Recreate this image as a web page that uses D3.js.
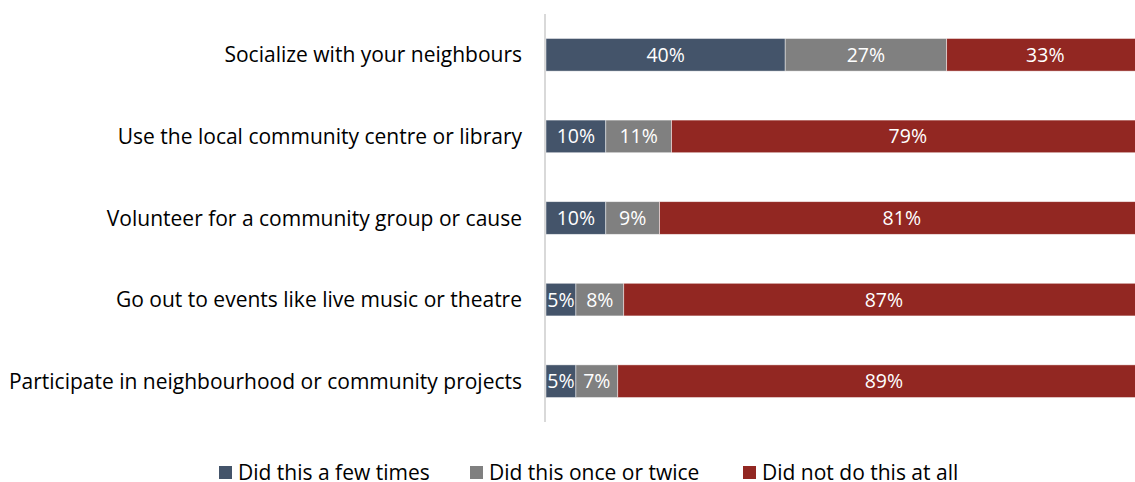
<!DOCTYPE html>
<html>
<head>
<meta charset="utf-8">
<script src="https://cdn.jsdelivr.net/npm/d3@7"></script>
<style>
  html, body { margin: 0; padding: 0; background: #fff; }
  svg { display: block; font-family: "Open Sans", "Noto Sans", sans-serif; }
</style>
</head>
<body>
<svg id="chart" width="1135" height="482"></svg>
<script>
// Survey activities and the share of respondents in each frequency group
const categories = [
  "Socialize with your neighbours",
  "Use the local community centre or library",
  "Volunteer for a community group or cause",
  "Go out to events like live music or theatre",
  "Participate in neighbourhood or community projects"
];
const seriesNames = ["Did this a few times", "Did this once or twice", "Did not do this at all"];
const fewTimes   = [40, 10, 10, 5, 5];
const onceTwice  = [27, 11, 9, 8, 7];
const notAtAll   = [33, 79, 81, 87, 89];
const colors = ["#44546a", "#808080", "#922722"];

const svg = d3.select("#chart");
const plotLeft = 546, plotRight = 1144, plotTop = 14, plotBottom = 422;

const x = d3.scaleLinear().domain([0, 100]).range([plotLeft, plotRight]);
const y = d3.scaleBand().domain(categories).range([plotTop, plotBottom]).paddingInner(0.6).paddingOuter(0.3);

const stackData = categories.map((c, i) => ({ cat: c, 0: fewTimes[i], 1: onceTwice[i], 2: notAtAll[i] }));
const stacked = d3.stack().keys([0, 1, 2])(stackData);

const g = svg.append("g");
stacked.forEach((layer, k) => {
  const lg = g.append("g");
  lg.selectAll("rect").data(layer).join("rect")
    .attr("x", d => x(d[0]))
    .attr("y", d => y(d.data.cat))
    .attr("width", d => x(d[1]) - x(d[0]))
    .attr("height", y.bandwidth())
    .attr("fill", colors[k])
    .attr("stroke", "#ffffff")
    .attr("stroke-opacity", 0.6)
    .attr("stroke-width", 0.75);
  lg.selectAll("text").data(layer).join("text")
    .attr("x", d => (x(d[0]) + x(d[1])) / 2)
    .attr("y", d => y(d.data.cat) + y.bandwidth() / 2)
    .attr("dy", "0.36em")
    .attr("text-anchor", "middle")
    .attr("fill", "#ffffff")
    .attr("font-size", 19.5)
    .text(d => (d[1] - d[0]) + "%");
});

// Category axis
svg.append("line")
  .attr("x1", plotLeft - 1).attr("x2", plotLeft - 1)
  .attr("y1", plotTop).attr("y2", plotBottom)
  .attr("stroke", "#d9d9d9").attr("stroke-width", 2);

svg.append("g").selectAll("text").data(categories).join("text")
  .attr("x", 522)
  .attr("y", d => y(d) + y.bandwidth() / 2)
  .attr("dy", "0.36em")
  .attr("text-anchor", "end")
  .attr("fill", "#000")
  .attr("font-size", 21)
  .text(d => d);

// Legend
const legendX = [219, 470, 743];
const legend = svg.append("g").selectAll("g").data(seriesNames).join("g")
  .attr("transform", (d, i) => `translate(${legendX[i]},466)`);
legend.append("rect").attr("width", 13).attr("height", 13).attr("fill", (d, i) => colors[i]);
legend.append("text")
  .attr("x", 19).attr("y", 6.5).attr("dy", "0.36em")
  .attr("font-size", 21).attr("fill", "#000")
  .text(d => d);
</script>
</body>
</html>
